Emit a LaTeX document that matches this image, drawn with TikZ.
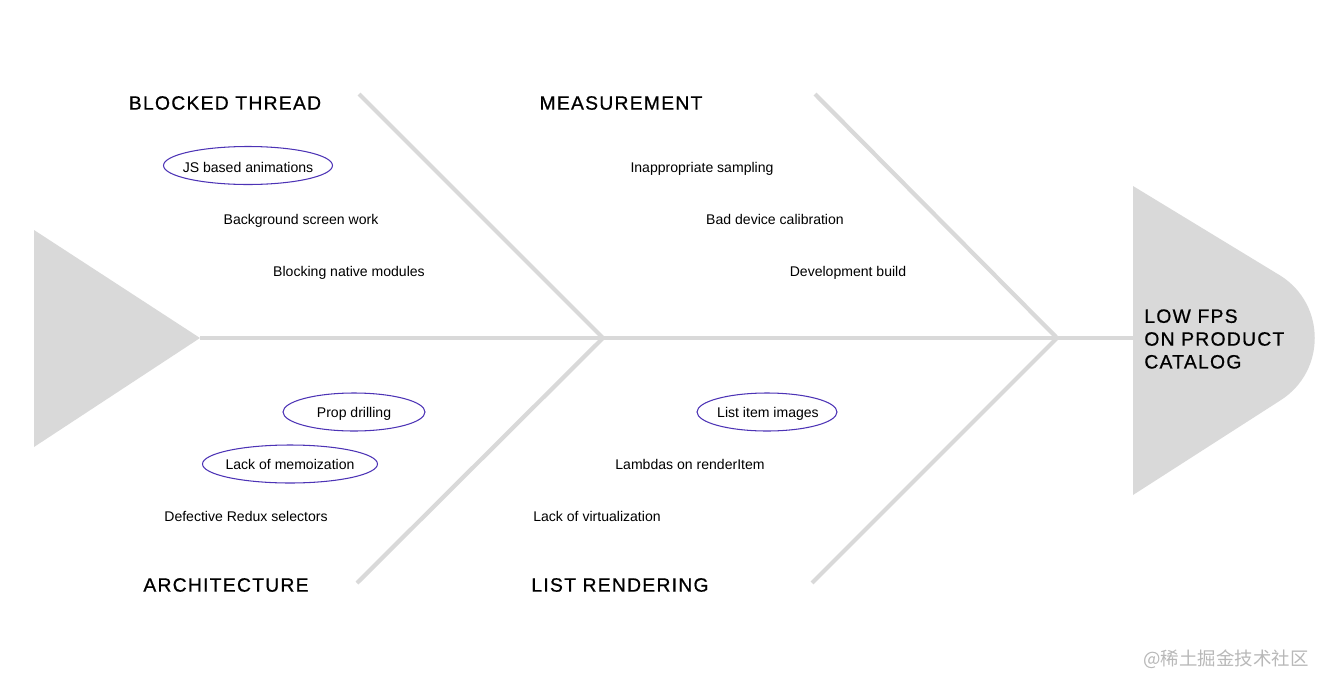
\documentclass[tikz,border=0pt]{standalone}
\usepackage{fontspec}
\setmainfont{Liberation Sans}
\newfontfamily\headfont[LetterSpace=6.5, FakeBold=0.7]{Liberation Sans}
\newfontfamily\cjkfont{Noto Sans CJK SC}
\usetikzlibrary{positioning,shapes.geometric}
\definecolor{bonegray}{HTML}{D9D9D9}
\definecolor{causeviolet}{HTML}{4C33B5}
\definecolor{markgray}{HTML}{B8B8B8}
\tikzset{
  bone/.style={line width=2.4pt, draw=bonegray},
  fishpart/.style={fill=bonegray, draw=none},
  category/.style={
    font=\headfont\fontsize{11}{13}\selectfont,
    inner sep=0pt
  },
  cause/.style={
    font=\fontsize{8}{10}\selectfont, inner sep=0pt, text depth=0pt
  },
  ring/.style={draw=causeviolet, line width=0.6pt},
}
\begin{document}
\begin{tikzpicture}[x=0.02cm, y=-0.02cm]
  \useasboundingbox (0,0) rectangle (1326,690);

  % joints on the spine
  \coordinate (tail) at (200,338);
  \coordinate (j1) at (603,338);
  \coordinate (j2) at (1057,338);
  \coordinate (headbase) at (1133,338);

  % tail and head
  \fill[fishpart] (34,230) -- (tail) -- (34,447) -- cycle;
  \fill[fishpart] (1133,186) -- (1281,276)
    .. controls (1326,305) and (1326,371) .. (1281,400)
    -- (1133,495) -- cycle;

  % spine and bones
  \draw[bone] (tail) -- (headbase);
  \coordinate (b1) at (359,94);
  \coordinate (b2) at (815,94);
  \coordinate (b3) at (357,583);
  \coordinate (b4) at (812,583);
  \draw[bone] (b1) -- (j1);
  \draw[bone] (b2) -- (j2);
  \draw[bone] (b3) -- (j1);
  \draw[bone] (b4) -- (j2);

  % categories
  \node[category] (thread) at (225,103) {BLOCKED THREAD};
  \node[category] (measure) at (621,103) {MEASUREMENT};
  \node[category] (archi) at (226,585) {ARCHITECTURE};
  \node[category] (listr) at (620,585) {LIST RENDERING};
  \node[category, anchor=west, align=left]
    (effect) at (1144,339) {LOW FPS\\ON PRODUCT\\CATALOG};

  % causes, blocked thread
  \node[cause] (jsanim) at (248,167) {JS based animations};
  \node[cause] (bgwork) at (301,219) {Background screen work};
  \node[cause] (native) at (349,271) {Blocking native modules};

  % causes, measurement
  \node[cause] (sampling) at (702,167) {Inappropriate sampling};
  \node[cause] (calib) at (775,219) {Bad device calibration};
  \node[cause] (devbuild) at (848,271) {Development build};

  % causes, architecture
  \node[cause] (props) at (354,412) {Prop drilling};
  \node[cause] (memo) at (290,464) {Lack of memoization};
  \node[cause] (redux) at (246,516) {Defective Redux selectors};

  % causes, list rendering
  \node[cause] (images) at (768,412) {List item images};
  \node[cause] (lambdas) at (690,464) {Lambdas on renderItem};
  \node[cause] (virtual) at (597,516) {Lack of virtualization};

  % rings round the main causes
  \draw[ring] ([yshift=0.03cm]jsanim.center) ellipse [x radius=1.69cm, y radius=0.38cm];
  \draw[ring] (props.center) ellipse [x radius=1.42cm, y radius=0.38cm];
  \draw[ring] (memo.center) ellipse [x radius=1.75cm, y radius=0.38cm];
  \draw[ring] ([xshift=-0.02cm]images.center) ellipse [x radius=1.40cm, y radius=0.38cm];

  \node[font=\cjkfont\fontsize{10.5}{12}\selectfont, text=markgray, inner sep=0pt]
    (mark) at (1226,659) {@稀土掘金技术社区};
\end{tikzpicture}
\end{document}
